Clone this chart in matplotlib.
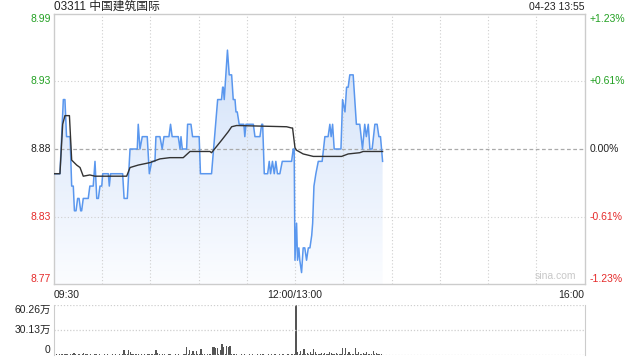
import matplotlib
matplotlib.use('Agg')
import matplotlib.pyplot as plt
import numpy as np
from matplotlib.colors import LinearSegmentedColormap

plt.rcParams['font.family'] = ['Liberation Sans', 'Noto Sans CJK SC', 'DejaVu Sans']

# ---------------- data ----------------
title = "03311 中国建筑国际"
stamp = "04-23 13:55"
prev_close = 8.88
pct_limit = 1.23
price_labels = ["8.99", "8.93", "8.88", "8.83", "8.77"]
pct_labels = ["+1.23%", "+0.61%", "0.00%", "-0.61%", "-1.23%"]
time_labels = ["09:30", "12:00/13:00", "16:00"]
time_label_min = [0, 150, 330]
vol_labels = ["60.26万", "30.13万", "0"]
vol_max = 60.26

# minutes since 09:30 (lunch break removed) and price at those vertices
price_t = [0, 3.7, 5.8, 6.8, 7.8, 10.0, 11.0, 12.0, 12.7, 13.7, 14.7, 15.6, 16.6, 17.2,
           18.2, 21.3, 22.3, 24.4, 25.5, 26.6, 27.6, 28.6, 29.7, 30.3, 33.8, 34.4, 35.2,
           42.7, 43.6, 45.6, 47.3, 51.8, 52.4, 53.5, 54.9, 58.0, 59.3, 60.8, 62.8, 63.4,
           65.9, 67.3, 68.4, 71.5, 72.5, 73.5, 77.3, 78.4, 79.0, 79.8, 82.5, 83.1, 85.2,
           86.2, 90.3, 91.1, 98.0, 101.8, 104.2, 104.9, 105.3, 105.9, 107.9, 109.0,
           110.5, 111.5, 112.6, 113.2, 114.0, 115.2, 118.1, 118.7, 119.4, 124.0, 125.0,
           128.1, 129.2, 129.8, 130.8, 132.9, 133.9, 134.7, 135.9, 137.0, 138.0, 139.0,
           140.5, 142.0, 147.8, 148.8, 149.4, 149.9, 150.9, 151.5, 152.3, 152.9, 154.0,
           155.0, 156.0, 157.1, 158.2, 159.2, 160.3, 160.9, 161.7, 162.9, 164.4, 166.8,
           168.5, 170.5, 171.6, 172.4, 173.3, 174.3, 178.5, 179.5, 181.0, 182.0, 183.0,
           184.0, 186.1, 187.1, 188.1, 190.2, 191.9, 193.3, 194.3, 195.5, 196.5, 197.9,
           199.6, 201.0, 202.1, 203.1, 204.4]
price_v = [8.86, 8.86, 8.92, 8.92, 8.89, 8.89, 8.85, 8.85, 8.83, 8.83, 8.84, 8.84, 8.83, 8.83,
           8.84, 8.84, 8.85, 8.85, 8.87, 8.84, 8.84, 8.85, 8.85, 8.86, 8.86, 8.85, 8.86,
           8.86, 8.84, 8.84, 8.88, 8.88, 8.90, 8.88, 8.89, 8.89, 8.86, 8.87, 8.87, 8.89,
           8.89, 8.88, 8.89, 8.89, 8.90, 8.89, 8.89, 8.88, 8.89, 8.88, 8.88, 8.90, 8.90,
           8.89, 8.89, 8.86, 8.86, 8.92, 8.92, 8.93, 8.93, 8.92, 8.96, 8.94,
           8.94, 8.92, 8.92, 8.91, 8.91, 8.90, 8.90, 8.89, 8.90, 8.90, 8.89,
           8.89, 8.90, 8.90, 8.86, 8.86, 8.87, 8.86, 8.87, 8.86, 8.87, 8.86,
           8.86, 8.87, 8.87, 8.88, 8.88, 8.79, 8.82, 8.79, 8.80, 8.79, 8.78,
           8.80, 8.80, 8.79, 8.80, 8.80, 8.81, 8.82, 8.85, 8.86, 8.87, 8.87,
           8.89, 8.89, 8.90, 8.89, 8.90, 8.88, 8.88, 8.92, 8.91, 8.93, 8.93,
           8.94, 8.94, 8.92, 8.90, 8.90, 8.88, 8.90, 8.89, 8.90, 8.88, 8.88,
           8.90, 8.90, 8.89, 8.89, 8.87]

avg_t = [0, 3.7, 5.4, 6.8, 9.6, 11.0, 14.1, 16.2, 18.2, 22.3, 25.5, 45.2, 47.3, 52.4, 59.7,
         65.9, 72.1, 80.4, 84.6, 97.0, 98.0, 101.1, 104.2, 108.4, 110.5, 113.6, 144.7,
         147.8, 148.4, 149.9, 150.9, 155.0, 161.3, 178.9, 183.0, 190.2, 192.3, 204.4]
avg_v = [8.86, 8.86, 8.900, 8.907, 8.907, 8.871, 8.867, 8.865, 8.858, 8.859, 8.858, 8.858,
         8.865, 8.867, 8.869, 8.872, 8.873, 8.873, 8.878, 8.878, 8.877, 8.882, 8.887, 8.894,
         8.898, 8.899, 8.898, 8.897, 8.897, 8.881, 8.879, 8.876, 8.874, 8.874, 8.876,
         8.877, 8.878, 8.878]

# volume per minute (万股), minute 0 .. 203
volume = [1.0, 0.8, 0.6, 0.9, 1.2, 1.5, 0.8, 0.7, 1.0, 0.6,
          1.1, 1.4, 3.0, 0.8, 0.6, 0.9, 0.5, 0.7, 2.6, 0.9,
          0.7, 0.6, 0.8, 0.5, 0.6, 1.2, 0.7, 0.5, 0.9, 0.6,
          0.5, 0.7, 0.6, 0.8, 0.5, 0.6, 0.7, 0.5, 0.9, 0.6,
          0.8, 0.6, 0.7, 6.0, 1.0, 0.8, 5.6, 3.2, 1.0, 0.7,
          0.8, 1.2, 0.7, 0.6, 0.9, 0.5, 0.8, 0.6, 0.7, 1.0,
          0.9, 0.7, 0.8, 6.0, 2.0, 0.8, 0.6, 0.7, 0.9, 0.6,
          0.5, 0.7, 0.8, 0.6, 0.5, 0.7, 0.6, 0.8, 0.5, 0.6,
          0.7, 0.8, 10.0, 1.0, 6.0, 0.8, 4.8, 0.9, 5.2, 0.8,
          1.2, 7.2, 1.0, 0.8, 0.6, 0.7, 0.9, 0.8, 10.0, 10.0,
          8.8, 8.0, 1.2, 6.0, 13.2, 10.0, 1.5, 11.2, 10.0, 10.8,
          1.0, 0.8, 0.7, 0.9, 0.6, 0.5, 0.7, 0.6, 0.8, 0.5,
          0.6, 0.7, 0.5, 0.8, 0.6, 0.5, 0.7, 0.6, 0.8, 0.7,
          0.9, 0.6, 0.5, 0.7, 0.6, 0.8, 0.5, 0.7, 0.6, 0.5,
          0.7, 0.6, 0.8, 0.5, 0.6, 0.7, 0.5, 0.8, 0.9, 1.2,
          60.26, 4.0, 1.0, 4.8, 0.9, 7.2, 1.0, 2.0, 0.8, 3.2,
          0.9, 7.2, 4.0, 0.8, 0.7, 0.9, 2.0, 0.8, 2.0, 0.7,
          0.8, 3.2, 2.0, 0.7, 0.9, 2.8, 0.8, 0.7, 0.9, 8.0,
          1.0, 8.8, 0.8, 4.0, 0.9, 0.7, 1.0, 8.0, 0.8, 3.2,
          0.8, 0.9, 2.4, 0.7, 3.2, 0.8, 0.9, 0.7, 4.8, 0.8,
          2.4, 0.8, 0.9, 1.2]

# ---------------- styling ----------------
W, H = 640, 360
GREEN = '#22a022'
RED = '#e52a2a'
BLACK = '#222222'
GRID = '#cfcfcf'
FRAME = '#cccccc'
LINE = '#5a97ee'
AVG = '#333333'
FS = 7.5

fig = plt.figure(figsize=(6.4, 3.6), dpi=100)
fig.patch.set_facecolor('white')

L, R = 54, 584.5
ax = fig.add_axes([L / W, 1 - 284 / H, (R - L) / W, 270 / H])
half = prev_close * pct_limit / 100
ylo, yhi = prev_close - half, prev_close + half

# gradient fill under the price line
cmap = LinearSegmentedColormap.from_list('g', [(0.985, 0.99, 1.0), (0.80, 0.87, 0.975)])
grad = np.linspace(0, 1, 256).reshape(-1, 1)
im = ax.imshow(grad, extent=[0, 330, ylo, yhi], aspect='auto', cmap=cmap,
               origin='lower', zorder=1, interpolation='bilinear')
poly = ax.fill_between(price_t, price_v, ylo, color='none', linewidth=0)
im.set_clip_path(poly.get_paths()[0], transform=ax.transData)

ax.plot(price_t, price_v, color=LINE, lw=1.1, zorder=4)
ax.plot(avg_t, avg_v, color=AVG, lw=1.0, zorder=5)

ax.set_xlim(0, 330)
ax.set_ylim(ylo, yhi)
ax.set_xticks([])
ax.set_yticks([])
for s in ax.spines.values():
    s.set_color(FRAME)
    s.set_linewidth(1)

for k in range(1, 11):
    ax.axvline(k * 30, color=GRID, lw=0.8, ls=(0, (1, 2)), zorder=2)
levels = [yhi, prev_close + half / 2, prev_close, prev_close - half / 2, ylo]
ax.axhline(levels[1], color=GRID, lw=0.8, ls=(0, (1, 2)), zorder=2)
ax.axhline(levels[3], color=GRID, lw=0.8, ls=(0, (1, 2)), zorder=2)
ax.axhline(levels[2], color='#aaaaaa', lw=0.9, ls=(0, (3, 2)), zorder=2)

colors = [GREEN, GREEN, BLACK, RED, RED]
vas = ['top', 'center', 'center', 'center', 'bottom']
ytr = ax.get_yaxis_transform()
for lv, pl, pc, c, va in zip(levels, price_labels, pct_labels, colors, vas):
    ax.text(-0.006, lv, pl, transform=ytr, ha='right', va=va, color=c, fontsize=FS)
    ax.text(1.01, lv, pc, transform=ytr, ha='left', va=va, color=c, fontsize=FS)

xtr = ax.get_xaxis_transform()
has = ['left', 'center', 'right']
for tl, tm, ha in zip(time_labels, time_label_min, has):
    ax.text(tm, -0.022, tl, transform=xtr, ha=ha, va='top', color=BLACK, fontsize=FS)

ax.text(0.985, 0.012, 'sina.com', transform=ax.transAxes, ha='right', va='bottom',
        color='#c8c8c8', fontsize=7.5, zorder=6)

fig.text(L / W, 1 - 7 / H, title, ha='left', va='center', fontsize=8.5, color=BLACK)
fig.text(R / W, 1 - 7 / H, stamp, ha='right', va='center', fontsize=FS, color=BLACK)

# ---------------- volume panel ----------------
axv = fig.add_axes([L / W, 1 - 355 / H, (R - L) / W, 50 / H])
axv.bar(np.arange(len(volume)) + 0.5, volume, width=0.75, color='#555555', linewidth=0)
axv.set_xlim(0, 330)
axv.set_ylim(0, vol_max)
axv.set_xticks([])
axv.set_yticks([])
for side in ['top', 'bottom']:
    axv.spines[side].set_visible(False)
for side in ['left', 'right']:
    axv.spines[side].set_color(FRAME)
axv.axhline(vol_max, color=GRID, lw=0.9, ls=(0, (1, 1.5)))
axv.axhline(vol_max / 2, color=GRID, lw=0.9, ls=(0, (1, 1.5)))
axv.axhline(0, color=GRID, lw=0.9, ls=(0, (1, 1.5)))
vtr = axv.get_yaxis_transform()
for lv, lab, va in zip([vol_max, vol_max / 2, 0], vol_labels, ['top', 'center', 'bottom']):
    axv.text(-0.006, lv, lab, transform=vtr, ha='right', va=va, color=BLACK, fontsize=FS)

fig.savefig('out.png', dpi=100)
